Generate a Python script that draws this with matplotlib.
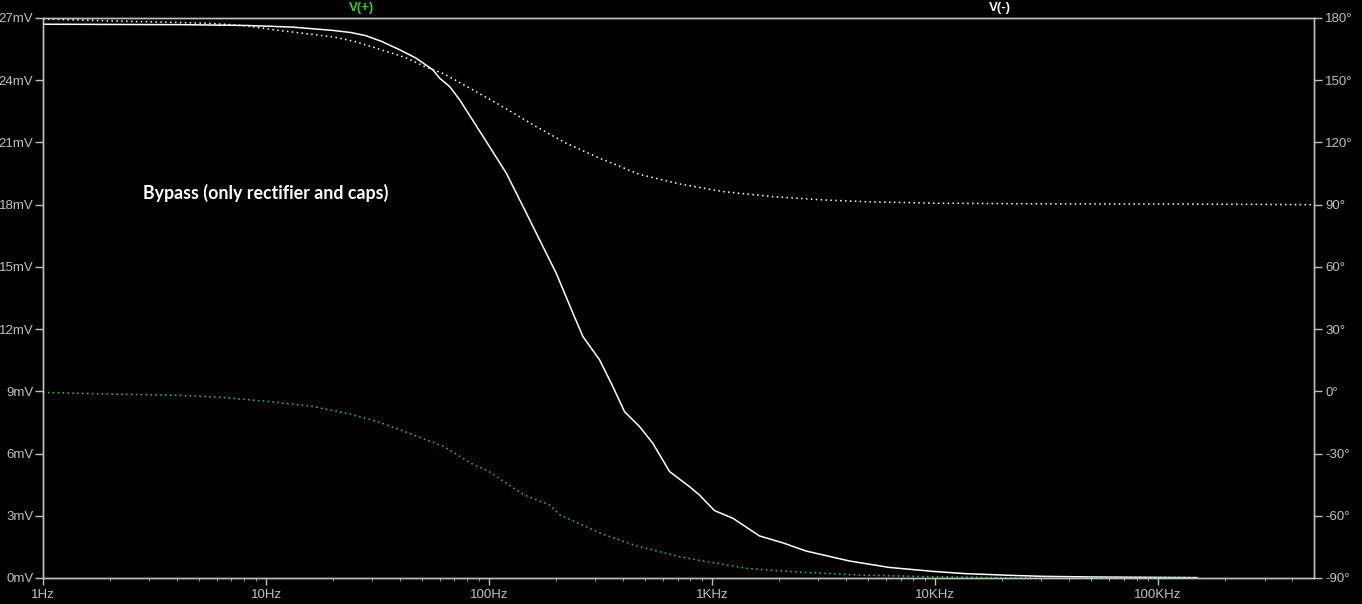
import numpy as np
import matplotlib
matplotlib.use("Agg")
import matplotlib.pyplot as plt
from matplotlib.ticker import FixedLocator, NullFormatter

# V(-) magnitude (white solid), mV
mag_freq = [1, 4.1, 8.2, 13.2, 20, 24, 28, 33, 39.7, 47, 56, 60, 66.5, 73.8, 94,
            119.5, 147, 168.6, 200, 237.7, 263.6, 313, 359, 405, 473, 542, 645,
            793, 878, 1025, 1240, 1630, 2070, 2640, 4130, 6230, 9750, 13700,
            21500, 30300, 49900, 150000]
mag_mv = [26.7, 26.68, 26.64, 26.56, 26.4, 26.3, 26.15, 25.87, 25.47, 25.07,
          24.5, 24.1, 23.7, 23.06, 21.29, 19.52, 17.59, 16.3, 14.7, 12.77,
          11.64, 10.52, 9.23, 8.02, 7.3, 6.5, 5.13, 4.4, 4.0, 3.25, 2.88, 2.03,
          1.70, 1.30, 0.82, 0.51, 0.32, 0.21, 0.13, 0.08, 0.05, 0.02]

# V(-) phase (white dotted), degrees
phm_freq = [1, 2, 3.5, 5, 6.5, 8.5, 11, 13, 20, 25, 33, 42, 52, 63, 84.7, 111.5,
            163, 222, 313, 473, 714, 1120, 1870, 3130, 5250, 6900, 10000, 30000,
            130000, 500000]
phm_deg = [179.5, 178.6, 178.0, 177.6, 177.0, 176.0, 174.2, 173.3, 170.9, 168.7,
           164.6, 161.0, 156.4, 153.0, 145.3, 138.1, 127.6, 119.6, 112.4, 104.6,
           100.0, 96.3, 93.9, 92.3, 91.3, 91.1, 90.7, 90.4, 90.3, 90.0]

# V(+) phase (green dotted), degrees
php_freq = [1, 1.93, 4.02, 6.36, 10, 15.9, 23, 31.7, 43.8, 63, 83, 100, 119.5,
            144, 187, 208, 282, 315, 455, 714, 967, 1120, 1420, 1870, 2730, 4570,
            8200, 16300, 32000, 150000]
php_deg = [-0.5, -1.3, -1.9, -2.9, -4.8, -7.1, -10.6, -14.6, -20.2, -26.7, -34.7,
           -38.7, -44.3, -50.0, -54.8, -59.6, -66.0, -68.4, -74.4, -79.7, -82.3,
           -83.4, -85.3, -86.3, -87.4, -88.6, -89.2, -89.7, -90.0, -90.0]

x_ticks = [1, 10, 100, 1e3, 1e4, 1e5]
x_labels = ["1Hz", "10Hz", "100Hz", "1KHz", "10KHz", "100KHz"]
mv_ticks = [0, 3, 6, 9, 12, 15, 18, 21, 24, 27]
deg_ticks = [-90, -60, -30, 0, 30, 60, 90, 120, 150, 180]

grey = "#c0c0c0"
green = "#2fcf2f"

plt.rcParams['font.family'] = ['Liberation Sans', 'DejaVu Sans']

fig = plt.figure(figsize=(13.62, 6.04), dpi=100, facecolor="black")
ax = fig.add_axes([43/1362, 26/604, 1271/1362, 560/604])
ax.set_facecolor("black")
ax2 = ax.twinx()

#magnitude on the left axis
ax.plot(mag_freq, mag_mv, color="white", linewidth=1.1)
#phases on the right axis
ax2.plot(phm_freq, phm_deg, color="white", linewidth=1.1, linestyle=(0, (1, 2.2)))
ax2.plot(php_freq, php_deg, color=green, linewidth=1.1, linestyle=(0, (1, 2.2)))

ax.set_xscale("log")
ax.set_xlim(1, 5e5)
ax.set_ylim(0, 27)
ax2.set_ylim(-90, 180)

ax.xaxis.set_major_locator(FixedLocator(x_ticks))
ax.set_xticklabels(x_labels)
minor = [m * 10**d for d in range(0, 6) for m in range(2, 10) if m * 10**d < 5e5]
ax.xaxis.set_minor_locator(FixedLocator(minor))
ax.xaxis.set_minor_formatter(NullFormatter())

ax.set_yticks(mv_ticks)
ax.set_yticklabels([f"{v}mV" for v in mv_ticks])
ax2.set_yticks(deg_ticks)
ax2.set_yticklabels([f"{v}\u00b0" for v in deg_ticks])

for a in (ax, ax2):
    for s in a.spines.values():
        s.set_color(grey)
        s.set_linewidth(1)
    a.tick_params(colors=grey, labelsize=9.5, width=1)
ax.tick_params(axis="x", which="major", length=5, pad=3)
ax.tick_params(axis="x", which="minor", length=2.5, color=grey)
ax.tick_params(axis="y", length=6, pad=1)
ax2.tick_params(axis="y", length=6, pad=2)

#trace names on top
fig.text(362/1362, 1 - 8/604, "V(+)", color=green, fontsize=9.5,
         fontweight="bold", ha="center", va="center")
fig.text(1000/1362, 1 - 8/604, "V(-)", color="white", fontsize=9.5,
         fontweight="bold", ha="center", va="center")

#annotation
fig.text(143/1362, 1 - 193/604, "Bypass (only rectifier and caps)",
         color="white", fontsize=12.8, fontweight="bold",
         family=["Lato", "DejaVu Sans"], ha="left", va="center")

fig.savefig("out.png", dpi=100, facecolor="black")
